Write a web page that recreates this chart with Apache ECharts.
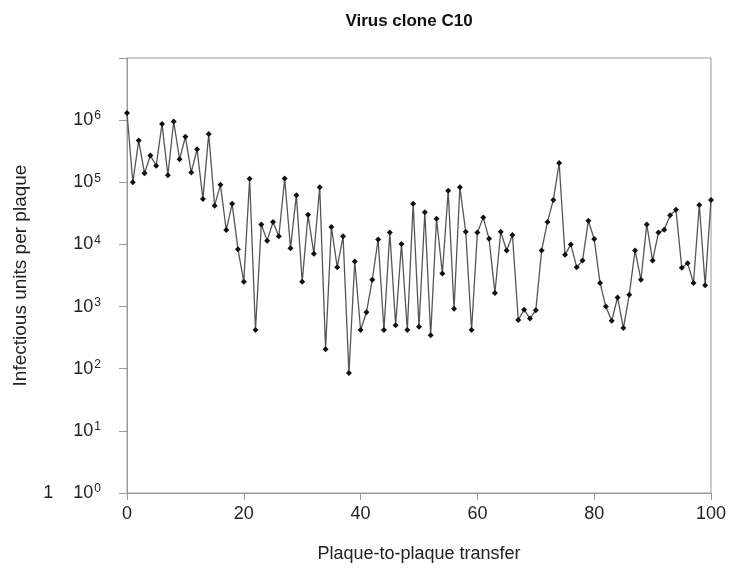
<!DOCTYPE html>
<html>
<head>
<meta charset="utf-8">
<script src="https://cdn.jsdelivr.net/npm/echarts@6/dist/echarts.min.js"></script>
<style>
  html, body { margin: 0; padding: 0; background: #fff; }
  #main { width: 731px; height: 570px; }
</style>
</head>
<body>
<div id="main"></div>
<script>
// infectious units per plaque, one value per transfer (0..100)
const titers = [
  1.3e6, 1.0e5, 4.7e5, 1.4e5, 2.7e5, 1.85e5, 8.7e5, 1.3e5, 9.5e5, 2.35e5,
  5.4e5, 1.44e5, 3.4e5, 5.4e4, 6.0e5, 4.2e4, 9.1e4, 1.7e4, 4.5e4, 8.4e3,
  2.5e3, 1.14e5, 420, 2.1e4, 1.15e4, 2.3e4, 1.35e4, 1.15e5, 8.7e3, 6.2e4,
  2.5e3, 3.0e4, 7.1e3, 8.3e4, 205, 1.9e4, 4.3e3, 1.35e4, 85, 5.3e3,
  420, 810, 2.7e3, 1.2e4, 420, 1.55e4, 500, 1.02e4, 420, 4.5e4,
  475, 3.3e4, 345, 2.6e4, 3.4e3, 7.3e4, 920, 8.3e4, 1.6e4, 420,
  1.55e4, 2.7e4, 1.23e4, 1.65e3, 1.6e4, 8.0e3, 1.42e4, 610, 890, 640,
  870, 8.0e3, 2.3e4, 5.2e4, 2.04e5, 6.8e3, 1.0e4, 4.3e3, 5.5e3, 2.4e4,
  1.22e4, 2.4e3, 1.0e3, 590, 1.4e3, 450, 1.55e3, 8.0e3, 2.7e3, 2.1e4,
  5.5e3, 1.55e4, 1.73e4, 2.95e4, 3.6e4, 4.2e3, 5.0e3, 2.4e3, 4.3e4, 2.2e3,
  5.2e4
];
const xTicks = [0, 20, 40, 60, 80, 100];
const yExponents = ['0', '1', '2', '3', '4', '5', '6'];

const dom = document.getElementById('main');
const myChart = echarts.init(dom);

const font = 'Liberation Sans, Arial, sans-serif';

function yLabel(value) {
  const exp = Math.round(Math.log10(value));
  const e = yExponents[exp];
  if (e === undefined) return '';
  if (exp === 0) return '{one|1}10{sup|' + e + '}';
  return '10{sup|' + e + '}';
}

myChart.setOption({
  animation: false,
  title: {
    text: 'Virus clone C10',
    left: 404,
    textAlign: 'center',
    top: 8,
    textStyle: {
      fontFamily: font,
      fontWeight: 'bold',
      fontSize: 17,
      color: '#111',
    },
  },
  grid: {
    left: 127,
    right: 20,
    top: 58,
    bottom: 77,
    show: true,
    borderColor: '#999',
    borderWidth: 1,
  },
  xAxis: {
    type: 'value',
    min: xTicks[0],
    max: xTicks[xTicks.length - 1],
    interval: 20,
    name: 'Plaque-to-plaque transfer',
    nameLocation: 'middle',
    nameGap: 52,
    nameTextStyle: { fontFamily: font, fontSize: 18, color: '#222' },
    axisLine: { lineStyle: { color: '#999', width: 1 } },
    axisTick: { show: true, length: 7, lineStyle: { color: '#999' } },
    axisLabel: { fontFamily: font, fontSize: 18, color: '#222', margin: 12 },
    splitLine: { show: false },
  },
  yAxis: {
    type: 'log',
    logBase: 10,
    min: 1,
    max: 1e7,
    name: 'Infectious units per plaque',
    nameLocation: 'middle',
    nameGap: 97,
    nameTextStyle: { fontFamily: font, fontSize: 19, color: '#222' },
    axisLine: { lineStyle: { color: '#999', width: 1 } },
    axisTick: { show: true, length: 8, lineStyle: { color: '#999' } },
    axisLabel: {
      fontFamily: font,
      fontSize: 18,
      color: '#222',
      margin: 26,
      formatter: yLabel,
      rich: {
        sup: { fontFamily: font, fontSize: 12, verticalAlign: 'top', padding: [0, 0, 8, 1], color: '#222' },
        one: { fontFamily: font, fontSize: 18, color: '#222', padding: [0, 20, 0, 0] },
      },
    },
    splitLine: { show: false },
  },
  series: [
    {
      type: 'line',
      data: titers.map((v, i) => [i, v]),
      symbol: 'diamond',
      symbolSize: 6,
      itemStyle: { color: '#111' },
      lineStyle: { color: '#555', width: 1.3 },
    },
  ],
});
</script>
</body>
</html>
